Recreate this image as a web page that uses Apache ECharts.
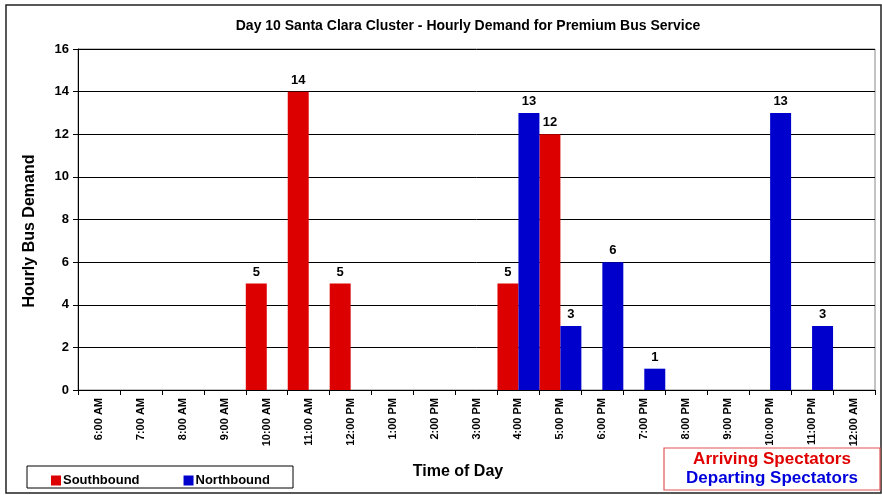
<!DOCTYPE html>
<html><head><meta charset="utf-8">
<script src="https://cdn.jsdelivr.net/npm/echarts@6/dist/echarts.min.js"></script>
<style>html,body{margin:0;padding:0;background:#fff}#c{width:882px;height:495px}</style>
</head><body><div id="c"></div>
<script>
const categories = ['6:00 AM','7:00 AM','8:00 AM','9:00 AM','10:00 AM','11:00 AM','12:00 PM','1:00 PM','2:00 PM','3:00 PM','4:00 PM','5:00 PM','6:00 PM','7:00 PM','8:00 PM','9:00 PM','10:00 PM','11:00 PM','12:00 AM'];
const southbound = [null,null,null,null,5,14,5,null,null,null,5,12,null,null,null,null,null,null,null];
const northbound = [null,null,null,null,null,null,null,null,null,null,13,3,6,1,null,null,13,3,null];
const yTicks = {min:0, max:16, interval:2};
const titleText = 'Day 10 Santa Clara Cluster - Hourly Demand for Premium Bus Service';

const F = '"Liberation Sans", Arial, sans-serif';
const RED = '#DD0000', BLUE = '#0000CC';
const chart = echarts.init(document.getElementById('c'), null, {renderer:'canvas'});
const lbl = {show:true, position:'top', fontFamily:F, fontWeight:'bold', fontSize:13, color:'#000', distance:5};
chart.setOption({
  animation:false,
  backgroundColor:'#fff',
  title:{text:titleText, left:463, top:14, textAlign:'center',
    textStyle:{fontFamily:F, fontWeight:'bold', fontSize:14, color:'#000'}},
  grid:{left:78, right:7, top:49, bottom:105, show:true, borderColor:'#888', borderWidth:1, backgroundColor:'#fff'},
  legend:{show:true, left:46, top:469, itemWidth:10, itemHeight:10, itemGap:44, icon:'rect',
    textStyle:{fontFamily:F, fontWeight:'bold', fontSize:13, color:'#000', padding:[0,0,0,-3]},
    data:['Southbound','Northbound']},
  xAxis:{type:'category', data:categories,
    axisLine:{lineStyle:{color:'#000', width:1}},
    axisTick:{show:true, length:5, lineStyle:{color:'#000'}},
    axisLabel:{rotate:90, interval:0, margin:8, fontFamily:F, fontWeight:'bold', fontSize:11, color:'#000'}},
  yAxis:{type:'value', min:yTicks.min, max:yTicks.max, interval:yTicks.interval,
    axisLine:{show:true, lineStyle:{color:'#000'}},
    axisTick:{show:true, length:5, lineStyle:{color:'#000'}},
    axisLabel:{margin:9, fontFamily:F, fontWeight:'bold', fontSize:13, color:'#000'},
    splitLine:{show:true, lineStyle:{color:'#000', width:1}}},
  series:[
    {name:'Southbound', type:'bar', data:southbound, barGap:'0%', barCategoryGap:'0%',
      itemStyle:{color:RED}, label:lbl},
    {name:'Northbound', type:'bar', data:northbound, barGap:'0%', barCategoryGap:'0%',
      itemStyle:{color:BLUE}, label:lbl}
  ],
  graphic:[
    {type:'rect', shape:{x:6, y:5, width:875, height:488}, style:{fill:null, stroke:'#222', lineWidth:1.5}, silent:true, z:-1},
    {type:'text', x:30, y:231, rotation:Math.PI/2, style:{text:'Hourly Bus Demand', font:'bold 16px '+F, fill:'#000', align:'center', verticalAlign:'middle'}},
    {type:'rect', shape:{x:27, y:466, width:266, height:22}, style:{fill:null, stroke:'#000', lineWidth:1}, silent:true},
    {type:'text', x:458, y:472, style:{text:'Time of Day', font:'bold 16px '+F, fill:'#000', align:'center', verticalAlign:'middle'}},
    {type:'rect', shape:{x:664, y:448, width:216, height:42}, style:{fill:'#fff', stroke:'#E05555', lineWidth:1.2}, silent:true},
    {type:'text', x:772, y:459, style:{text:'Arriving Spectators', font:'bold 17px '+F, fill:'#E00000', align:'center', verticalAlign:'middle'}},
    {type:'text', x:772, y:478, style:{text:'Departing Spectators', font:'bold 17px '+F, fill:'#0000DD', align:'center', verticalAlign:'middle'}}
  ]
});
</script></body></html>
